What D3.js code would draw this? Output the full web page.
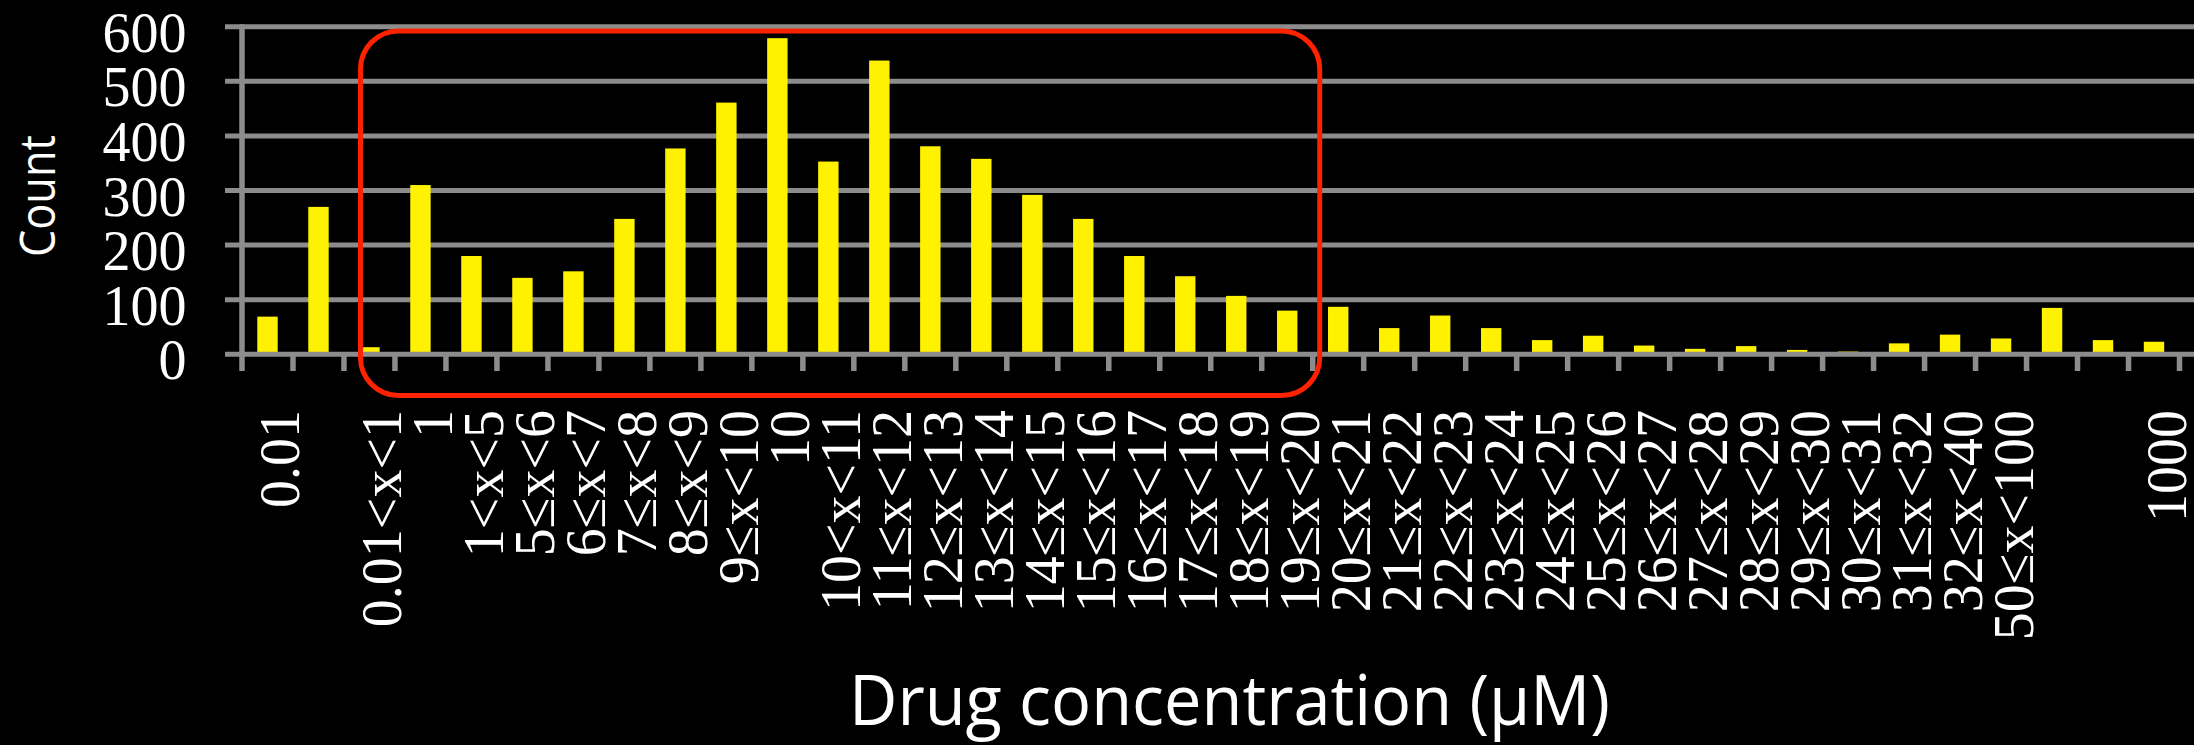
<!DOCTYPE html>
<html>
<head>
<meta charset="utf-8">
<script src="https://cdn.jsdelivr.net/npm/d3@7"></script>
<style>
  html, body { margin: 0; padding: 0; background: #000; }
  svg { display: block; }
</style>
</head>
<body>
<svg id="chart" width="2194" height="745"></svg>
<script>
// ---- data ----
const categories = [
  "0.01", "", "0.01<x<1", "1", "1<x<5", "5≤x<6", "6≤x<7", "7≤x<8", "8≤x<9", "9≤x<10",
  "10", "10<x<11", "11≤x<12", "12≤x<13", "13≤x<14", "14≤x<15", "15≤x<16", "16≤x<17",
  "17≤x<18", "18≤x<19", "19≤x<20", "20≤x<21", "21≤x<22", "22≤x<23", "23≤x<24",
  "24≤x<25", "25≤x<26", "26≤x<27", "27≤x<28", "28≤x<29", "29≤x<30", "30≤x<31",
  "31≤x<32", "32≤x<40", "50≤x<100", "", "", "1000"
];
const counts = [
  69, 270, 13, 310, 180, 140, 152, 248, 377, 461,
  579, 353, 538, 381, 358, 292, 248, 180, 143, 107,
  80, 87, 48, 71, 48, 26, 34, 16, 10, 15,
  8, 5, 20, 36, 29, 85, 26, 23
];
const yTicks = [0, 100, 200, 300, 400, 500, 600];
const yTitle = "Count";
const xTitle = "Drug concentration (µM)";
const highlightRange = [2, 20]; // categories inside the red box

// ---- layout ----
const W = 2194, H = 745;
const svg = d3.select("#chart");
svg.append("rect").attr("width", W).attr("height", H).attr("fill", "#000");

const idx = d3.range(categories.length);
const x = d3.scaleBand().domain(idx).range([242, 2179.5]).paddingInner(0.6).paddingOuter(0.3);
const step = x.step();
const x0 = 242;
const y = d3.scaleLinear().domain([0, 600]).range([354.3, 26.7]);

const gridColor = "#8c8c8c";
const tickBottom = 371;

// gridlines (non-zero) behind bars
svg.append("g").selectAll("line").data(yTicks.filter(d => d !== 0)).join("line")
  .attr("x1", 225).attr("x2", W)
  .attr("y1", d => y(d)).attr("y2", d => y(d))
  .attr("stroke", gridColor).attr("stroke-width", 5);

// bars
svg.append("g").selectAll("rect").data(counts).join("rect")
  .attr("x", (d, i) => x(i))
  .attr("width", x.bandwidth())
  .attr("y", d => y(d))
  .attr("height", d => y(0) - y(d))
  .attr("fill", "#fff200");

// baseline gridline
svg.append("line")
  .attr("x1", 225).attr("x2", W)
  .attr("y1", y(0)).attr("y2", y(0))
  .attr("stroke", gridColor).attr("stroke-width", 5);

// y axis line
svg.append("line")
  .attr("x1", x0).attr("x2", x0)
  .attr("y1", y(600) - 2.5).attr("y2", tickBottom)
  .attr("stroke", gridColor).attr("stroke-width", 5.5);

// x tick marks at category boundaries
svg.append("g").selectAll("line").data(d3.range(1, categories.length + 1)).join("line")
  .attr("x1", k => x0 + k * step).attr("x2", k => x0 + k * step)
  .attr("y1", y(0)).attr("y2", tickBottom)
  .attr("stroke", gridColor).attr("stroke-width", 5.5);

// y tick labels
svg.append("g").selectAll("text").data(yTicks).join("text")
  .attr("x", 186.5).attr("y", d => y(d) + 25)
  .attr("text-anchor", "end")
  .attr("font-family", "'Liberation Serif', 'Times New Roman', serif")
  .attr("font-size", 56)
  .attr("fill", "#fff")
  .text(d => d);

// x tick labels (rotated)
svg.append("g").selectAll("text").data(idx).join("text")
  .attr("transform", i => `translate(${x(i) + x.bandwidth() / 2 + 32},410) rotate(-90)`)
  .attr("text-anchor", "end")
  .attr("font-family", "'Liberation Serif', 'Times New Roman', serif")
  .attr("font-size", 56)
  .attr("fill", "#fff")
  .text(i => categories[i]);

// axis titles
svg.append("text")
  .attr("transform", `translate(55,196) rotate(-90)`)
  .attr("text-anchor", "middle")
  .attr("font-family", "'Open Sans', 'Lato', sans-serif")
  .attr("font-size", 49)
  .attr("textLength", 122).attr("lengthAdjust", "spacingAndGlyphs")
  .attr("fill", "#fff")
  .text(yTitle);

svg.append("text")
  .attr("x", 1229.5).attr("y", 725)
  .attr("text-anchor", "middle")
  .attr("font-family", "'Open Sans', 'Lato', sans-serif")
  .attr("font-size", 70)
  .attr("textLength", 761).attr("lengthAdjust", "spacingAndGlyphs")
  .attr("fill", "#fff")
  .text(xTitle);

// red highlight box around the selected categories
const cL = x(highlightRange[0]) + x.bandwidth() / 2 - 9;
const cR = x(highlightRange[1]) + x.bandwidth() / 2 + 32.5;
svg.append("rect")
  .attr("x", cL).attr("y", 31)
  .attr("width", cR - cL).attr("height", 364.5)
  .attr("rx", 38).attr("ry", 38)
  .attr("fill", "none")
  .attr("stroke", "#ff2200").attr("stroke-width", 5);
</script>
</body>
</html>
